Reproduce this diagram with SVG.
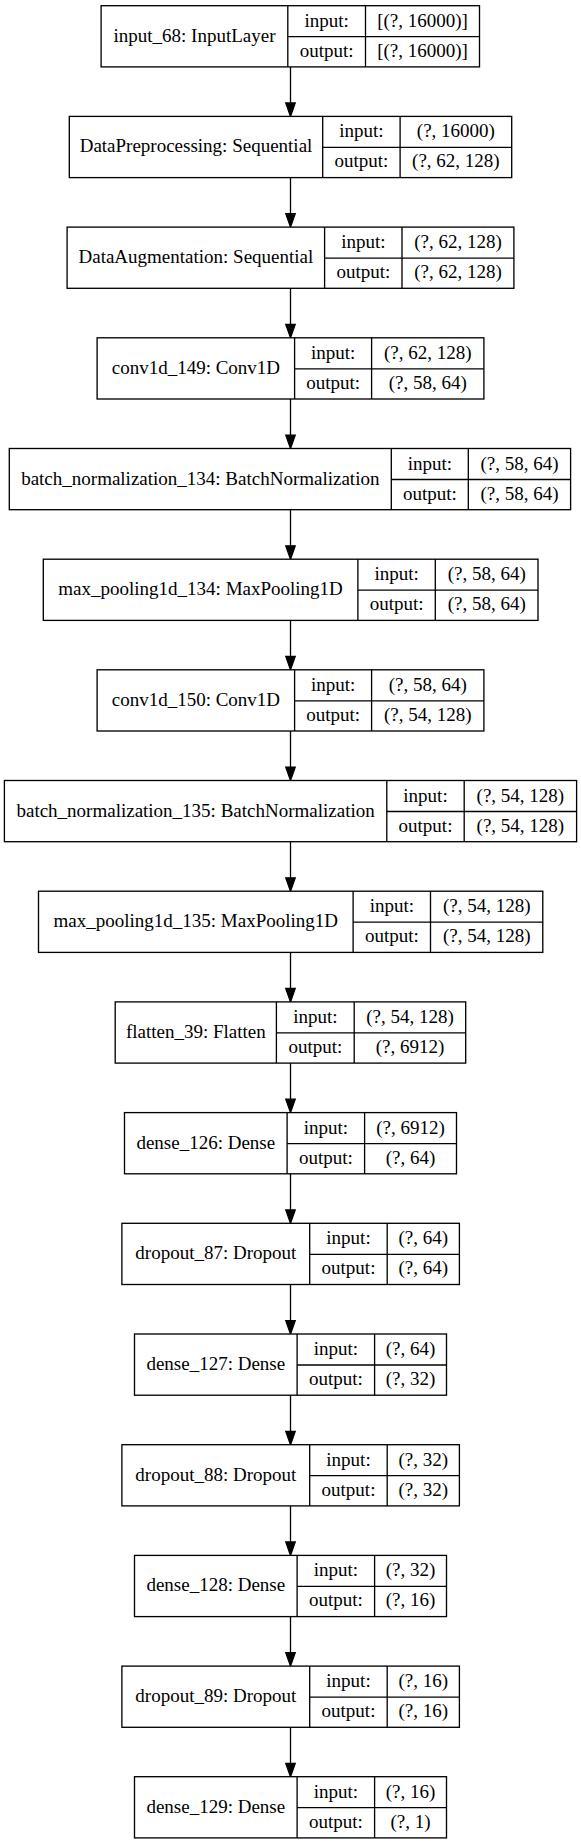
<svg xmlns="http://www.w3.org/2000/svg" width="581" height="1844" viewBox="0 0 581 1844">
<style>
.b{fill:#fff;stroke:#000;stroke-width:1.33}
.l{stroke:#000;stroke-width:1.33;fill:none}
text{font-family:"Liberation Serif","Times New Roman",serif;font-size:19px;fill:#000;text-anchor:middle}
.e{stroke:#000;stroke-width:1.33;fill:none}
.h{fill:#000;stroke:#000;stroke-width:1.33}
</style>
<rect width="581" height="1844" fill="#fff"/>
<g id="connectors">
<line class="e" x1="290.5" y1="66.9" x2="290.5" y2="103"/><polygon class="h" points="285.8,103 295.2,103 290.5,116.4"/>
<line class="e" x1="290.5" y1="177.6" x2="290.5" y2="213.7"/><polygon class="h" points="285.8,213.7 295.2,213.7 290.5,227.1"/>
<line class="e" x1="290.5" y1="288.3" x2="290.5" y2="324.4"/><polygon class="h" points="285.8,324.4 295.2,324.4 290.5,337.8"/>
<line class="e" x1="290.5" y1="399" x2="290.5" y2="435.1"/><polygon class="h" points="285.8,435.1 295.2,435.1 290.5,448.5"/>
<line class="e" x1="290.5" y1="509.7" x2="290.5" y2="545.8"/><polygon class="h" points="285.8,545.8 295.2,545.8 290.5,559.2"/>
<line class="e" x1="290.5" y1="620.4" x2="290.5" y2="656.4"/><polygon class="h" points="285.8,656.4 295.2,656.4 290.5,669.8"/>
<line class="e" x1="290.5" y1="731" x2="290.5" y2="767.1"/><polygon class="h" points="285.8,767.1 295.2,767.1 290.5,780.5"/>
<line class="e" x1="290.5" y1="841.7" x2="290.5" y2="877.8"/><polygon class="h" points="285.8,877.8 295.2,877.8 290.5,891.2"/>
<line class="e" x1="290.5" y1="952.4" x2="290.5" y2="988.5"/><polygon class="h" points="285.8,988.5 295.2,988.5 290.5,1001.9"/>
<line class="e" x1="290.5" y1="1063.1" x2="290.5" y2="1099.2"/><polygon class="h" points="285.8,1099.2 295.2,1099.2 290.5,1112.6"/>
<line class="e" x1="290.5" y1="1173.8" x2="290.5" y2="1209.9"/><polygon class="h" points="285.8,1209.9 295.2,1209.9 290.5,1223.3"/>
<line class="e" x1="290.5" y1="1284.5" x2="290.5" y2="1320.6"/><polygon class="h" points="285.8,1320.6 295.2,1320.6 290.5,1334"/>
<line class="e" x1="290.5" y1="1395.2" x2="290.5" y2="1431.3"/><polygon class="h" points="285.8,1431.3 295.2,1431.3 290.5,1444.7"/>
<line class="e" x1="290.5" y1="1505.9" x2="290.5" y2="1542"/><polygon class="h" points="285.8,1542 295.2,1542 290.5,1555.4"/>
<line class="e" x1="290.5" y1="1616.6" x2="290.5" y2="1652.7"/><polygon class="h" points="285.8,1652.7 295.2,1652.7 290.5,1666.1"/>
<line class="e" x1="290.5" y1="1727.3" x2="290.5" y2="1763.3"/><polygon class="h" points="285.8,1763.3 295.2,1763.3 290.5,1776.7"/>
</g>
<g id="input_68" transform="translate(0,5.7)">
<rect class="b" x="101.1" y="0" width="378.4" height="61.2"/>
<line class="l" x1="287.8" y1="0" x2="287.8" y2="61.2"/><line class="l" x1="365.5" y1="0" x2="365.5" y2="61.2"/><line class="l" x1="287.8" y1="31" x2="479.5" y2="31"/>
<text x="194.5" y="36">input_68: InputLayer</text>
<text x="326.6" y="21">input:</text><text x="422.5" y="21">[(?, 16000)]</text>
<text x="326.6" y="51">output:</text><text x="422.5" y="51">[(?, 16000)]</text>
</g>
<g id="DataPreprocessing" transform="translate(0,116.4)">
<rect class="b" x="69.3" y="0" width="442.4" height="61.2"/>
<line class="l" x1="322.7" y1="0" x2="322.7" y2="61.2"/><line class="l" x1="400.1" y1="0" x2="400.1" y2="61.2"/><line class="l" x1="322.7" y1="31" x2="511.7" y2="31"/>
<text x="196" y="36">DataPreprocessing: Sequential</text>
<text x="361.4" y="21">input:</text><text x="455.9" y="21">(?, 16000)</text>
<text x="361.4" y="51">output:</text><text x="455.9" y="51">(?, 62, 128)</text>
</g>
<g id="DataAugmentation" transform="translate(0,227.1)">
<rect class="b" x="67.1" y="0" width="446.8" height="61.2"/>
<line class="l" x1="324.6" y1="0" x2="324.6" y2="61.2"/><line class="l" x1="402" y1="0" x2="402" y2="61.2"/><line class="l" x1="324.6" y1="31" x2="513.9" y2="31"/>
<text x="195.9" y="36">DataAugmentation: Sequential</text>
<text x="363.3" y="21">input:</text><text x="458" y="21">(?, 62, 128)</text>
<text x="363.3" y="51">output:</text><text x="458" y="51">(?, 62, 128)</text>
</g>
<g id="conv1d_149" transform="translate(0,337.8)">
<rect class="b" x="97.1" y="0" width="386.8" height="61.2"/>
<line class="l" x1="294.6" y1="0" x2="294.6" y2="61.2"/><line class="l" x1="371.6" y1="0" x2="371.6" y2="61.2"/><line class="l" x1="294.6" y1="31" x2="483.9" y2="31"/>
<text x="195.9" y="36">conv1d_149: Conv1D</text>
<text x="333.1" y="21">input:</text><text x="427.8" y="21">(?, 62, 128)</text>
<text x="333.1" y="51">output:</text><text x="427.8" y="51">(?, 58, 64)</text>
</g>
<g id="batch_normalization_134" transform="translate(0,448.5)">
<rect class="b" x="9.3" y="0" width="561.3" height="61.2"/>
<line class="l" x1="391.3" y1="0" x2="391.3" y2="61.2"/><line class="l" x1="468.3" y1="0" x2="468.3" y2="61.2"/><line class="l" x1="391.3" y1="31" x2="570.6" y2="31"/>
<text x="200.3" y="36">batch_normalization_134: BatchNormalization</text>
<text x="429.8" y="21">input:</text><text x="519.5" y="21">(?, 58, 64)</text>
<text x="429.8" y="51">output:</text><text x="519.5" y="51">(?, 58, 64)</text>
</g>
<g id="max_pooling1d_134" transform="translate(0,559.2)">
<rect class="b" x="43.3" y="0" width="494.7" height="61.2"/>
<line class="l" x1="357.9" y1="0" x2="357.9" y2="61.2"/><line class="l" x1="435.3" y1="0" x2="435.3" y2="61.2"/><line class="l" x1="357.9" y1="31" x2="538" y2="31"/>
<text x="200.6" y="36">max_pooling1d_134: MaxPooling1D</text>
<text x="396.6" y="21">input:</text><text x="486.7" y="21">(?, 58, 64)</text>
<text x="396.6" y="51">output:</text><text x="486.7" y="51">(?, 58, 64)</text>
</g>
<g id="conv1d_150" transform="translate(0,669.8)">
<rect class="b" x="97.1" y="0" width="386.8" height="61.2"/>
<line class="l" x1="294.6" y1="0" x2="294.6" y2="61.2"/><line class="l" x1="371.6" y1="0" x2="371.6" y2="61.2"/><line class="l" x1="294.6" y1="31" x2="483.9" y2="31"/>
<text x="195.9" y="36">conv1d_150: Conv1D</text>
<text x="333.1" y="21">input:</text><text x="427.8" y="21">(?, 58, 64)</text>
<text x="333.1" y="51">output:</text><text x="427.8" y="51">(?, 54, 128)</text>
</g>
<g id="batch_normalization_135" transform="translate(0,780.5)">
<rect class="b" x="4.4" y="0" width="572.2" height="61.2"/>
<line class="l" x1="386.8" y1="0" x2="386.8" y2="61.2"/><line class="l" x1="464.2" y1="0" x2="464.2" y2="61.2"/><line class="l" x1="386.8" y1="31" x2="576.6" y2="31"/>
<text x="195.6" y="36">batch_normalization_135: BatchNormalization</text>
<text x="425.5" y="21">input:</text><text x="520.4" y="21">(?, 54, 128)</text>
<text x="425.5" y="51">output:</text><text x="520.4" y="51">(?, 54, 128)</text>
</g>
<g id="max_pooling1d_135" transform="translate(0,891.2)">
<rect class="b" x="38.5" y="0" width="504.3" height="61.2"/>
<line class="l" x1="353.1" y1="0" x2="353.1" y2="61.2"/><line class="l" x1="430.5" y1="0" x2="430.5" y2="61.2"/><line class="l" x1="353.1" y1="31" x2="542.8" y2="31"/>
<text x="195.8" y="36">max_pooling1d_135: MaxPooling1D</text>
<text x="391.8" y="21">input:</text><text x="486.7" y="21">(?, 54, 128)</text>
<text x="391.8" y="51">output:</text><text x="486.7" y="51">(?, 54, 128)</text>
</g>
<g id="flatten_39" transform="translate(0,1001.9)">
<rect class="b" x="115.2" y="0" width="350.5" height="61.2"/>
<line class="l" x1="276.4" y1="0" x2="276.4" y2="61.2"/><line class="l" x1="354.2" y1="0" x2="354.2" y2="61.2"/><line class="l" x1="276.4" y1="31" x2="465.7" y2="31"/>
<text x="195.8" y="36">flatten_39: Flatten</text>
<text x="315.3" y="21">input:</text><text x="410" y="21">(?, 54, 128)</text>
<text x="315.3" y="51">output:</text><text x="410" y="51">(?, 6912)</text>
</g>
<g id="dense_126" transform="translate(0,1112.6)">
<rect class="b" x="124.5" y="0" width="332" height="61.2"/>
<line class="l" x1="287.1" y1="0" x2="287.1" y2="61.2"/><line class="l" x1="364.6" y1="0" x2="364.6" y2="61.2"/><line class="l" x1="287.1" y1="31" x2="456.5" y2="31"/>
<text x="205.8" y="36">dense_126: Dense</text>
<text x="325.9" y="21">input:</text><text x="410.6" y="21">(?, 6912)</text>
<text x="325.9" y="51">output:</text><text x="410.6" y="51">(?, 64)</text>
</g>
<g id="dropout_87" transform="translate(0,1223.3)">
<rect class="b" x="121.9" y="0" width="337.5" height="61.2"/>
<line class="l" x1="309.7" y1="0" x2="309.7" y2="61.2"/><line class="l" x1="387.2" y1="0" x2="387.2" y2="61.2"/><line class="l" x1="309.7" y1="31" x2="459.4" y2="31"/>
<text x="215.8" y="36">dropout_87: Dropout</text>
<text x="348.5" y="21">input:</text><text x="423.3" y="21">(?, 64)</text>
<text x="348.5" y="51">output:</text><text x="423.3" y="51">(?, 64)</text>
</g>
<g id="dense_127" transform="translate(0,1334)">
<rect class="b" x="134.5" y="0" width="312" height="61.2"/>
<line class="l" x1="297.1" y1="0" x2="297.1" y2="61.2"/><line class="l" x1="374.6" y1="0" x2="374.6" y2="61.2"/><line class="l" x1="297.1" y1="31" x2="446.5" y2="31"/>
<text x="215.8" y="36">dense_127: Dense</text>
<text x="335.9" y="21">input:</text><text x="410.6" y="21">(?, 64)</text>
<text x="335.9" y="51">output:</text><text x="410.6" y="51">(?, 32)</text>
</g>
<g id="dropout_88" transform="translate(0,1444.7)">
<rect class="b" x="121.9" y="0" width="337.5" height="61.2"/>
<line class="l" x1="309.7" y1="0" x2="309.7" y2="61.2"/><line class="l" x1="387.2" y1="0" x2="387.2" y2="61.2"/><line class="l" x1="309.7" y1="31" x2="459.4" y2="31"/>
<text x="215.8" y="36">dropout_88: Dropout</text>
<text x="348.5" y="21">input:</text><text x="423.3" y="21">(?, 32)</text>
<text x="348.5" y="51">output:</text><text x="423.3" y="51">(?, 32)</text>
</g>
<g id="dense_128" transform="translate(0,1555.4)">
<rect class="b" x="134.5" y="0" width="312" height="61.2"/>
<line class="l" x1="297.1" y1="0" x2="297.1" y2="61.2"/><line class="l" x1="374.6" y1="0" x2="374.6" y2="61.2"/><line class="l" x1="297.1" y1="31" x2="446.5" y2="31"/>
<text x="215.8" y="36">dense_128: Dense</text>
<text x="335.9" y="21">input:</text><text x="410.6" y="21">(?, 32)</text>
<text x="335.9" y="51">output:</text><text x="410.6" y="51">(?, 16)</text>
</g>
<g id="dropout_89" transform="translate(0,1666.1)">
<rect class="b" x="121.9" y="0" width="337.5" height="61.2"/>
<line class="l" x1="309.7" y1="0" x2="309.7" y2="61.2"/><line class="l" x1="387.2" y1="0" x2="387.2" y2="61.2"/><line class="l" x1="309.7" y1="31" x2="459.4" y2="31"/>
<text x="215.8" y="36">dropout_89: Dropout</text>
<text x="348.5" y="21">input:</text><text x="423.3" y="21">(?, 16)</text>
<text x="348.5" y="51">output:</text><text x="423.3" y="51">(?, 16)</text>
</g>
<g id="dense_129" transform="translate(0,1776.7)">
<rect class="b" x="134.5" y="0" width="312" height="61.2"/>
<line class="l" x1="297.1" y1="0" x2="297.1" y2="61.2"/><line class="l" x1="374.6" y1="0" x2="374.6" y2="61.2"/><line class="l" x1="297.1" y1="31" x2="446.5" y2="31"/>
<text x="215.8" y="36">dense_129: Dense</text>
<text x="335.9" y="21">input:</text><text x="410.6" y="21">(?, 16)</text>
<text x="335.9" y="51">output:</text><text x="410.6" y="51">(?, 1)</text>
</g>
</svg>
